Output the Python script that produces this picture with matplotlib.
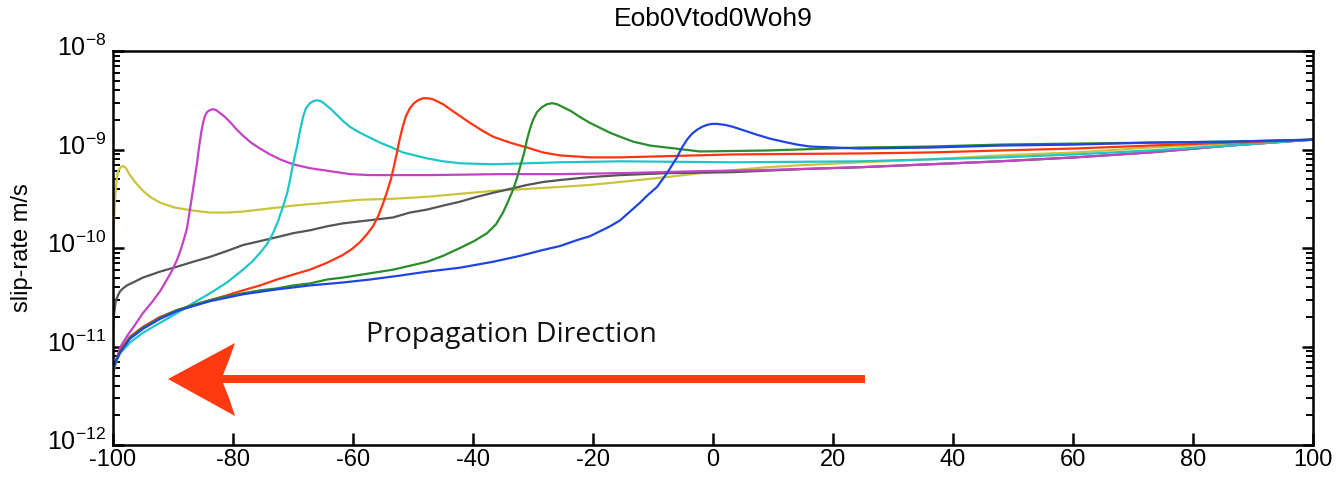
import numpy as np
import matplotlib
matplotlib.use('Agg')
from matplotlib import pyplot as plt
from matplotlib.patches import Polygon
from matplotlib.ticker import LogLocator, NullFormatter, LogFormatterSciNotation
from matplotlib.transforms import ScaledTranslation

plt.rcParams['font.family'] = ['Liberation Sans', 'DejaVu Sans']
plt.rcParams['mathtext.fontset'] = 'custom'
plt.rcParams['mathtext.rm'] = 'Liberation Sans'
plt.rcParams['mathtext.it'] = 'Liberation Sans:italic'
plt.rcParams['axes.unicode_minus'] = False

# along-strike position (km) and log10 slip rate (m/s) for each snapshot
x_blue = [-100, -99.5, -98.83, -97.17, -95, -92.17, -89.33, -86.67, -83.83, -78.33, -72.67, -67.17,
          -61.67, -57.17, -52.17, -47.67, -42.17, -36.67, -32.17, -28.33, -25.5, -22.67, -20.5,
          -18.83, -17.17, -15.5, -13.83, -12.17, -10.83, -9.33, -8.5, -7.67, -6.83, -6, -5.17,
          -4.33, -3.5, -2.67, -1.83, -1, -0.17, 0.67, 2, 3.33, 5.33, 7.33, 9.5, 11.67, 14, 16.17,
          20.33, 24.5, 36.17, 47.83, 60.33, 72.83, 86.17, 100]
L_blue = [-11.22, -11.14, -11.06, -10.92, -10.82, -10.72, -10.64, -10.59, -10.54, -10.47, -10.42,
          -10.38, -10.35, -10.32, -10.28, -10.24, -10.20, -10.14, -10.08, -10.02, -9.98, -9.92,
          -9.88, -9.83, -9.78, -9.72, -9.63, -9.54, -9.46, -9.38, -9.31, -9.24, -9.16, -9.08,
          -8.98, -8.90, -8.84, -8.80, -8.77, -8.75, -8.74, -8.74, -8.75, -8.77, -8.81, -8.85,
          -8.89, -8.92, -8.95, -8.97, -8.98, -8.99, -8.98, -8.96, -8.95, -8.93, -8.92, -8.90]

x_green = [-100, -99.5, -98.83, -97.17, -95, -92.17, -89.33, -86.67, -83.83, -81, -78.33, -75.5,
           -72.67, -70, -67.17, -64.33, -61.67, -57.5, -53.33, -50.5, -47.67, -45, -42.17, -39.83,
           -37.67, -36.17, -35, -34.17, -33.33, -32.67, -32.17, -31.5, -31, -30.5, -30, -29.33,
           -28.5, -27.67, -26.83, -26, -25, -23.67, -22.17, -20.5, -18.83, -17.17, -15.5, -13.33,
           -10.5, -7.67, -2.17, 9, 24.5, 36.17, 47.83, 60.33, 72.83, 86.17, 100]
L_green = [-11.24, -11.15, -11.06, -10.91, -10.81, -10.71, -10.63, -10.58, -10.53, -10.49, -10.46,
           -10.43, -10.41, -10.38, -10.36, -10.32, -10.30, -10.26, -10.22, -10.18, -10.14, -10.08,
           -10.00, -9.93, -9.85, -9.76, -9.64, -9.53, -9.41, -9.29, -9.18, -9.04, -8.90, -8.79,
           -8.70, -8.62, -8.57, -8.54, -8.53, -8.54, -8.57, -8.61, -8.67, -8.73, -8.78, -8.83,
           -8.87, -8.92, -8.96, -8.98, -9.02, -9.01, -8.98, -8.97, -8.95, -8.94, -8.93, -8.92,
           -8.90]

x_red = [-100, -99.5, -98.83, -97.17, -95, -92.17, -89.33, -86.67, -83.83, -81, -78.33, -75.5,
         -72.67, -70, -67.17, -64.33, -61.67, -60.17, -58.83, -57.67, -56.67, -55.83, -55, -54.33,
         -53.67, -53.17, -52.67, -52.17, -51.67, -51.17, -50.5, -49.83, -49.17, -48.33, -47.5,
         -46.67, -46, -45, -43.83, -42.17, -40.5, -38.67, -36.67, -33.83, -31, -28.33, -25.5,
         -20.5, -15.5, 3.33, 24.5, 36.17, 47.83, 60.33, 72.83, 86.17, 100]
L_red = [-11.24, -11.14, -11.04, -10.90, -10.80, -10.70, -10.63, -10.58, -10.53, -10.48, -10.43,
         -10.38, -10.32, -10.27, -10.22, -10.15, -10.07, -10.01, -9.94, -9.86, -9.78, -9.68, -9.55,
         -9.43, -9.30, -9.17, -9.03, -8.88, -8.76, -8.66, -8.58, -8.53, -8.50, -8.48, -8.48,
         -8.49, -8.51, -8.54, -8.59, -8.66, -8.73, -8.80, -8.87, -8.93, -8.98, -9.03, -9.06,
         -9.08, -9.08, -9.05, -9.04, -9.03, -9.01, -8.99, -8.96, -8.93, -8.90]

x_cyan = [-100, -99.5, -98.83, -97.17, -95, -92.17, -89.33, -86.67, -83.83, -81, -78.33, -76.83,
          -75.5, -74.33, -73.33, -72.5, -71.67, -71, -70.5, -70, -69.33, -68.83, -68.33, -67.83,
          -67.17, -66.67, -66, -65.33, -64.67, -63.67, -62.67, -61.67, -60.5, -58.83, -57.17,
          -55.5, -53.5, -51.67, -49.67, -47.67, -45, -42.17, -36.67, -25.5, -15.5, 3.33, 24.5,
          36.17, 47.83, 60.33, 72.83, 86.17, 100]
L_cyan = [-11.26, -11.16, -11.07, -10.96, -10.86, -10.76, -10.66, -10.56, -10.46, -10.35, -10.22,
          -10.14, -10.05, -9.96, -9.85, -9.73, -9.58, -9.45, -9.31, -9.15, -8.97, -8.81, -8.67,
          -8.58, -8.53, -8.51, -8.50, -8.51, -8.54, -8.59, -8.65, -8.71, -8.77, -8.83, -8.88,
          -8.93, -8.98, -9.03, -9.06, -9.09, -9.12, -9.14, -9.15, -9.13, -9.12, -9.13, -9.12,
          -9.10, -9.08, -9.05, -9.01, -8.96, -8.90]

x_magenta = [-100, -99.5, -98.83, -97.5, -96.33, -95, -93.5, -92.17, -91, -90.17, -89.33, -88.67,
             -88.17, -87.67, -87.33, -87, -86.67, -86.33, -86, -85.67, -85.33, -85, -84.67, -84.33,
             -83.83, -83.33, -82.83, -82.17, -81.33, -80.5, -79.5, -78.33, -77, -75.5, -73.83,
             -72.17, -70, -67.17, -63.83, -60.5, -57.17, -47.17, -35.5, -25.5, -15.5, -2.17, 7.83,
             24.5, 36.17, 47.83, 60.33, 72.83, 86.17, 100]
L_magenta = [-11.29, -11.16, -11.01, -10.88, -10.78, -10.66, -10.55, -10.44, -10.32, -10.23,
             -10.12, -10.01, -9.91, -9.80, -9.67, -9.54, -9.41, -9.27, -9.14, -8.98, -8.84, -8.73,
             -8.66, -8.62, -8.60, -8.59, -8.60, -8.63, -8.67, -8.72, -8.79, -8.86, -8.93, -8.99,
             -9.05, -9.10, -9.15, -9.19, -9.22, -9.25, -9.26, -9.26, -9.25, -9.25, -9.24, -9.22,
             -9.21, -9.18, -9.15, -9.12, -9.08, -9.03, -8.96, -8.90]

x_yellow = [-100, -99.92, -99.83, -99.67, -99.5, -99.33, -99.17, -98.83, -98.5, -98.17, -97.83,
            -97.17, -96.33, -95, -93.83, -92.17, -89.67, -86.67, -83.83, -81, -78.33, -75.5,
            -72.67, -70, -64.33, -58.83, -53.33, -47.67, -42.17, -36.67, -31, -25.5, -20.5, -15.5,
            -7.67, -2.17, 3.33, 9, 14.5, 24.5, 36.17, 47.83, 60.33, 72.83, 86.17, 100]
L_yellow = [-10.09, -9.92, -9.74, -9.51, -9.37, -9.28, -9.22, -9.19, -9.17, -9.17, -9.19, -9.26,
            -9.33, -9.42, -9.48, -9.54, -9.59, -9.62, -9.64, -9.64, -9.63, -9.61, -9.59, -9.57,
            -9.54, -9.51, -9.50, -9.48, -9.45, -9.42, -9.40, -9.38, -9.36, -9.33, -9.28, -9.24,
            -9.21, -9.18, -9.16, -9.13, -9.10, -9.06, -9.03, -8.98, -8.94, -8.90]

x_gray = [-100, -99.92, -99.83, -99.67, -99.5, -99.17, -98.83, -98.33, -97.67, -96.33, -95, -92.17,
          -89.33, -86.67, -83.83, -81, -78.33, -75.5, -72.67, -70, -67.17, -64.33, -61.67, -57.5,
          -53.33, -50.5, -47.67, -45, -42.17, -39.33, -36.67, -33.83, -31, -28.33, -25.5, -20.5,
          -15.5, -7.67, 3.33, 14.5, 24.5, 36.17, 47.83, 60.33, 72.83, 86.17, 100]
L_gray = [-10.93, -10.78, -10.68, -10.59, -10.53, -10.48, -10.44, -10.41, -10.38, -10.34, -10.30,
          -10.24, -10.19, -10.14, -10.09, -10.03, -9.97, -9.93, -9.89, -9.85, -9.82, -9.78, -9.75,
          -9.72, -9.69, -9.64, -9.61, -9.57, -9.53, -9.48, -9.44, -9.40, -9.36, -9.33, -9.31,
          -9.28, -9.26, -9.24, -9.23, -9.20, -9.18, -9.15, -9.12, -9.08, -9.03, -8.96, -8.90]

decades = [1e-12, 1e-11, 1e-10, 1e-9, 1e-8]
x_ticks = [-100, -80, -60, -40, -20, 0, 20, 40, 60, 80, 100]

series = [
    (x_yellow, L_yellow, '#c9c43c'),
    (x_gray, L_gray, '#555555'),
    (x_magenta, L_magenta, '#c243c6'),
    (x_cyan, L_cyan, '#1fc6c8'),
    (x_red, L_red, '#ff3512'),
    (x_green, L_green, '#2a8c2a'),
    (x_blue, L_blue, '#1f45e0'),
]

fig = plt.figure(figsize=(13.4, 4.83), dpi=100)
ax = fig.add_axes([113/1340, 1 - 445/483, 1200/1340, 394/483])

for xs, Ls, c in series:
    ax.plot(xs, 10.0 ** np.array(Ls), color=c, lw=1.6, solid_joinstyle='round')

ax.set_yscale('log')
ax.set_xlim(-100, 100)
ax.set_ylim(1e-12, 1e-8)
ax.set_xticks(x_ticks)
ax.set_yticks(decades)
ax.yaxis.set_major_formatter(LogFormatterSciNotation())
ax.yaxis.set_minor_locator(LogLocator(base=10, subs=np.arange(2, 10), numticks=10))
ax.yaxis.set_minor_formatter(NullFormatter())

ax.tick_params(axis='x', which='both', direction='in', top=False, length=9, width=1.8,
               labelsize=17, pad=3)
ax.tick_params(axis='y', which='major', direction='in', left=True, right=True, length=8,
               width=1.8, labelsize=18, pad=5)
ax.tick_params(axis='y', which='minor', direction='in', left=True, right=True, length=5,
               width=1.4)
for sp in ax.spines.values():
    sp.set_linewidth(1.8)

# lift the decade labels so the base "10" sits on its tick
lift = ScaledTranslation(0, 4/72, fig.dpi_scale_trans)
for tick in ax.yaxis.get_major_ticks():
    tick.label1.set_transform(tick.label1.get_transform() + lift)

ax.set_ylabel('slip-rate m/s', fontsize=17)
ax.yaxis.set_label_coords(-0.067, 0.5)
fig.text(713/1340, 1 - 19/483, 'Eob0Vtod0Woh9', ha='center', va='center', fontsize=19)

# propagation direction arrow, in axes fractions
def af(px, py):
    return ((px - 113) / 1200, (445 - py) / 394)

arrow_pts = [af(168, 379), af(235, 343), af(229, 360), af(223, 375), af(865, 375),
             af(865, 383), af(223, 383), af(229, 398), af(235, 416)]
ax.add_patch(Polygon(arrow_pts, closed=True, transform=ax.transAxes, facecolor='#ff3a10',
                     edgecolor='none', zorder=5))
tx, ty = af(366, 342)
ax.text(tx, ty, 'Propagation Direction', transform=ax.transAxes, ha='left', va='baseline',
        fontsize=20.5, family=['Open Sans', 'DejaVu Sans'], color='#111111')

fig.savefig('out.png', dpi=100)
